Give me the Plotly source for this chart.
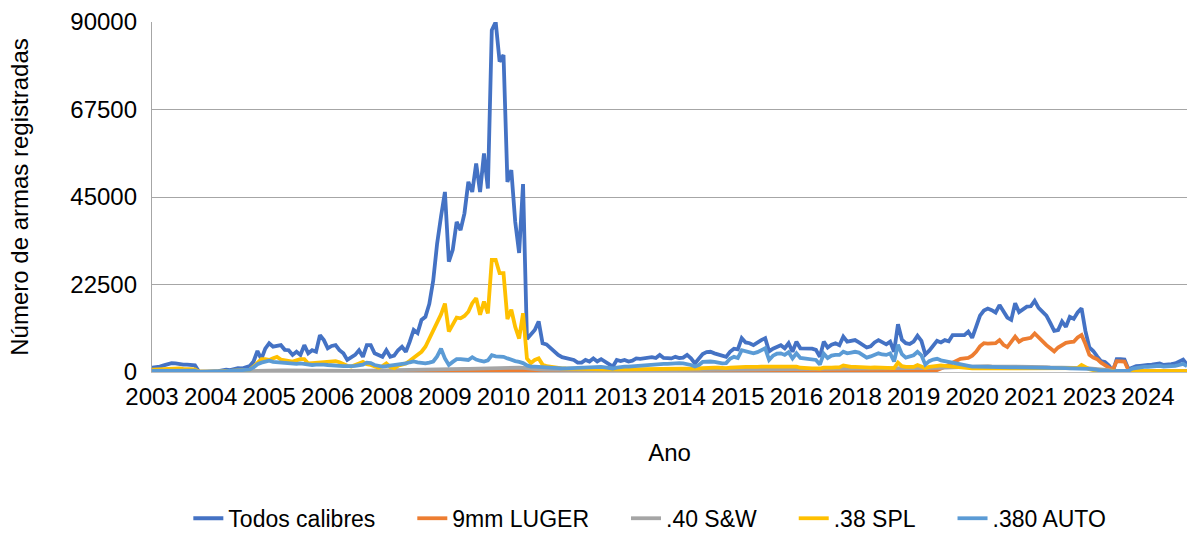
import plotly.graph_objects as go

# Monthly categories Jan/2003 .. Feb/2025
MONTHS = [f"{y}-{m:02d}" for y in range(2003, 2026) for m in range(1, 13)][:266]
TICK_YEARS = ["2003", "2004", "2005", "2006", "2008", "2009", "2010", "2011", "2013",
              "2014", "2015", "2016", "2018", "2019", "2020", "2021", "2023", "2024"]

todos_calibres = [
    1100, 1200, 1400, 1700, 2000, 2300, 2200, 2000, 1900, 1900,
    1800, 1700, 100, 0, 0, 100, 100, 200, 400, 600,
    500, 800, 1000, 900, 1300, 1500, 2700, 5400, 3300, 6000,
    7400, 6500, 6700, 6900, 5700, 5600, 4400, 5200, 4400, 6900,
    4800, 5600, 5200, 9500, 8200, 6100, 6700, 6900, 5600, 4800,
    3100, 3900, 4400, 5600, 3900, 6900, 6900, 4800, 4400, 3900,
    5600, 3900, 4200, 5600, 6500, 5200, 7800, 10800, 10000, 13400,
    14200, 17500, 23500, 33000, 40000, 46300, 28400, 31400, 38600, 36500,
    40800, 48900, 46300, 53600, 46300, 56200, 47200, 87900, 90000, 79800,
    81500, 48900, 51900, 38600, 30600, 48300, 8500, 9500, 10800, 13000,
    7400, 7100, 6100, 5400, 4400, 3800, 3600, 3500, 3100, 2400,
    2400, 3100, 2700, 3500, 2700, 3300, 2600, 2000, 1400, 3100,
    2800, 3100, 2700, 2900, 3500, 3400, 3500, 3500, 3800, 3600,
    4400, 3600, 3500, 3500, 3900, 3600, 3700, 4400, 3500, 2200,
    3400, 4600, 5100, 5200, 4800, 4500, 4100, 3900, 5200, 6000,
    5800, 8700, 7600, 7400, 6900, 7600, 8200, 8700, 5300, 6000,
    6400, 6900, 6100, 7400, 5200, 7800, 6100, 6100, 6100, 6000,
    5700, 3900, 7800, 6300, 7000, 7400, 6900, 9100, 7800, 8000,
    8200, 7600, 6900, 6300, 6600, 7600, 8200, 7500, 7100, 7800,
    5200, 12300, 8300, 7400, 7200, 7800, 9300, 8000, 4500, 5500,
    6700, 8000, 7600, 8200, 7900, 9500, 9500, 9500, 9500, 10400,
    8800, 11600, 14500, 15800, 16300, 15900, 15300, 17200, 15400, 14000,
    13400, 17700, 15400, 16200, 16800, 16900, 18300, 16500, 15600, 14500,
    12600, 10600, 10800, 13000, 11600, 14200, 13700, 15300, 16400, 10500,
    6300, 5400, 4000, 2800, 2600, 1700, 100, 3300, 3300, 3200,
    700, 1200, 1500, 1600, 1800, 1800, 1900, 2000, 2200, 1800,
    1800, 2000, 2200, 2600, 3200, 1900,
]

luger_9mm = [
    150, 160, 170, 180, 190, 200, 200, 190, 180, 170,
    160, 150, 30, 20, 20, 30, 30, 40, 50, 60,
    70, 80, 90, 100, 110, 120, 150, 180, 200, 210,
    220, 230, 230, 230, 220, 220, 210, 210, 200, 200,
    200, 200, 190, 190, 190, 180, 180, 180, 170, 170,
    170, 170, 180, 180, 180, 190, 190, 190, 200, 200,
    210, 220, 230, 240, 250, 260, 270, 280, 290, 300,
    310, 320, 330, 340, 350, 360, 340, 350, 360, 370,
    380, 390, 400, 410, 420, 430, 440, 460, 480, 470,
    460, 440, 420, 400, 380, 360, 300, 280, 270, 260,
    250, 250, 240, 240, 240, 230, 230, 230, 220, 220,
    220, 225, 230, 225, 220, 215, 220, 225, 230, 235,
    240, 240, 245, 245, 250, 250, 250, 255, 255, 260,
    260, 260, 265, 265, 270, 270, 270, 275, 275, 280,
    280, 285, 290, 290, 295, 300, 300, 300, 305, 310,
    310, 315, 320, 320, 325, 330, 330, 335, 335, 340,
    340, 340, 345, 345, 350, 350, 350, 350, 345, 345,
    340, 340, 340, 335, 335, 330, 330, 330, 325, 325,
    320, 320, 320, 315, 315, 310, 310, 310, 305, 305,
    300, 300, 300, 300, 300, 300, 310, 320, 330, 350,
    400, 500, 900, 1300, 1800, 2400, 2900, 3400, 3500, 3600,
    4200, 5200, 6600, 7400, 7300, 7400, 7400, 8200, 7000, 6400,
    7600, 9100, 7800, 8400, 8600, 8800, 9900, 8800, 7800, 6900,
    6100, 5300, 6300, 6800, 7500, 7700, 7800, 8900, 9500, 7200,
    4400, 3700, 3300, 2400, 1800, 1000, 500, 2800, 2800, 2700,
    500, 350, 320, 310, 300, 300, 300, 290, 290, 290,
    290, 280, 280, 280, 280, 280,
]

sw_40 = [
    100, 100, 100, 120, 120, 130, 130, 120, 110, 110,
    100, 100, 20, 20, 20, 30, 30, 40, 40, 50,
    60, 70, 80, 90, 100, 110, 200, 300, 350, 400,
    400, 400, 400, 400, 380, 360, 350, 350, 360, 370,
    350, 340, 330, 330, 320, 310, 300, 300, 290, 280,
    270, 270, 280, 290, 300, 310, 320, 330, 340, 350,
    360, 380, 400, 420, 440, 460, 480, 500, 520, 550,
    580, 600, 630, 660, 700, 720, 700, 720, 750, 780,
    800, 820, 850, 880, 900, 920, 950, 1000, 1050, 1100,
    1150, 1200, 1200, 1150, 1100, 1050, 900, 800, 700, 650,
    620, 600, 580, 560, 540, 520, 500, 490, 480, 470,
    460, 450, 440, 430, 420, 410, 400, 400, 400, 400,
    400, 400, 400, 400, 410, 410, 410, 420, 420, 420,
    420, 430, 430, 430, 440, 440, 440, 450, 450, 450,
    450, 460, 460, 470, 470, 480, 480, 490, 490, 500,
    500, 510, 510, 520, 520, 530, 530, 540, 540, 550,
    550, 550, 560, 560, 570, 570, 580, 580, 590, 590,
    600, 600, 610, 610, 620, 620, 630, 630, 640, 640,
    650, 650, 660, 660, 670, 680, 690, 700, 710, 720,
    730, 740, 750, 760, 780, 800, 820, 850, 880, 900,
    950, 1000, 1050, 1100, 1150, 1200, 1250, 1300, 1350, 1400,
    1450, 1500, 1500, 1500, 1500, 1450, 1450, 1450, 1400, 1400,
    1400, 1400, 1350, 1350, 1350, 1300, 1300, 1300, 1250, 1250,
    1200, 1200, 1200, 1150, 1150, 1100, 1100, 1100, 1050, 1000,
    950, 900, 800, 700, 600, 500, 300, 250, 250, 200,
    200, 200, 200, 200, 200, 200, 200, 200, 200, 200,
    200, 200, 200, 200, 200, 200,
]

spl_38 = [
    600, 650, 700, 750, 800, 900, 950, 900, 800, 750,
    700, 700, 100, 50, 0, 50, 100, 100, 150, 200,
    250, 300, 400, 450, 500, 600, 1400, 2500, 3300, 3300,
    3100, 3500, 3900, 3200, 3000, 2800, 2700, 3000, 3300, 3300,
    2200, 2300, 2400, 2500, 2600, 2700, 2900, 2800, 2500, 2000,
    1600, 1400, 1700, 2200, 2600, 2000, 1800, 1400, 1100, 1500,
    2200, 1300, 1000, 1600, 1900, 2200, 2900, 3600, 4400, 5200,
    6500, 8500, 10800, 13000, 14800, 17600, 10400, 12200, 14000, 13800,
    14400, 15500, 17700, 19000, 14700, 18100, 15100, 28800, 28800, 25400,
    25400, 13600, 16000, 11600, 8600, 15100, 3500, 2300, 3100, 3500,
    1900, 1500, 1300, 1100, 1000, 950, 900, 850, 800, 800,
    750, 750, 700, 700, 700, 650, 650, 650, 600, 650,
    650, 700, 700, 700, 750, 750, 750, 800, 800, 800,
    800, 850, 850, 800, 800, 850, 850, 900, 850, 800,
    900, 1000, 1100, 1100, 1100, 1100, 1000, 1000, 1100, 1200,
    1200, 1300, 1300, 1300, 1200, 1300, 1400, 1400, 1200, 1200,
    1200, 1300, 1300, 1400, 1200, 1400, 1100, 1000, 1000, 950,
    950, 900, 1100, 1000, 1100, 1200, 1200, 1700, 1400, 1300,
    1300, 1200, 1100, 1000, 1100, 1200, 1200, 1100, 1100, 1200,
    1000, 2400, 1500, 1300, 1200, 1300, 1800, 1500, 1000, 1300,
    1500, 1600, 1700, 1600, 1500, 1300, 1200, 1100, 1000, 1000,
    950, 950, 950, 1000, 1000, 950, 950, 1000, 950, 900,
    900, 950, 950, 900, 900, 950, 950, 900, 900, 900,
    850, 850, 900, 900, 950, 950, 1000, 1000, 1800, 1200,
    700, 500, 400, 400, 350, 300, 200, 300, 300, 300,
    250, 260, 250, 240, 250, 260, 250, 240, 250, 260,
    250, 240, 250, 260, 250, 240,
]

auto_380 = [
    300, 300, 350, 400, 450, 500, 500, 450, 400, 400,
    400, 350, 50, 50, 50, 100, 100, 150, 200, 250,
    300, 350, 400, 450, 500, 600, 1200, 2000, 2400, 2700,
    2900, 2600, 2500, 2400, 2300, 2200, 2000, 2100, 2200, 2000,
    1900, 1800, 1900, 2000, 1900, 1800, 1800, 1700, 1600, 1500,
    1400, 1500, 1600, 1800, 1900, 2400, 2300, 1800, 1500, 1400,
    1500, 1600, 1700, 1800, 1900, 2200, 2500, 2700, 2500, 2300,
    2200, 2400, 2700, 4000, 6000, 3500, 1800, 2600, 3300, 3300,
    3300, 3100, 3800, 3200, 2900, 2700, 3000, 4300, 4000, 3900,
    3900, 3500, 3100, 2800, 2600, 2300, 1700, 1400, 1400, 1400,
    1300, 1200, 1100, 1000, 1000, 950, 950, 1000, 1000, 1100,
    1000, 1100, 1200, 1300, 1400, 1300, 1200, 1000, 900, 1100,
    1300, 1400, 1400, 1500, 1600, 1700, 1800, 1800, 1900, 2000,
    2200, 2100, 2100, 2200, 2200, 2300, 2200, 2100, 1800, 1400,
    1800, 2600, 2700, 2700, 2600, 2400, 2200, 2300, 3400, 3900,
    3600, 5600, 5300, 5000, 4800, 5100, 5500, 6100, 3100, 4200,
    4700, 4800, 4400, 5100, 3500, 4800, 3600, 3500, 3400, 3100,
    3100, 1900, 4700, 3600, 4200, 4400, 4400, 5200, 4800, 5000,
    5200, 5000, 4400, 3700, 4000, 4500, 4800, 4500, 4400, 4800,
    2700, 7000, 4600, 3700, 3900, 4300, 5200, 4300, 1900, 2800,
    3200, 3400, 3000, 2800, 2600, 2200, 2000, 1800, 1600, 1500,
    1400, 1400, 1350, 1300, 1300, 1300, 1250, 1250, 1250, 1200,
    1200, 1200, 1200, 1150, 1150, 1150, 1100, 1100, 1100, 1100,
    1050, 1050, 1000, 1000, 1000, 950, 950, 900, 900, 900,
    800, 700, 500, 400, 400, 300, 100, 300, 300, 300,
    300, 900, 1100, 1200, 1300, 1300, 1400, 1500, 1600, 1400,
    1400, 1500, 1600, 1800, 2100, 1500,
]

SERIES = [
    ("Todos calibres", todos_calibres, "#4472C4"),
    ("9mm LUGER", luger_9mm, "#ED7D31"),
    (".40 S&W", sw_40, "#A5A5A5"),
    (".38 SPL", spl_38, "#FFC000"),
    (".380 AUTO", auto_380, "#5B9BD5"),
]

FONT = "Liberation Sans, Arial, Helvetica, sans-serif"
PAD = "\u00a0" * 5  # extra gap between legend entries

fig = go.Figure()
for k, (name, vals, color) in enumerate(SERIES):
    label = name + (PAD if k < len(SERIES) - 1 else "")
    fig.add_trace(go.Scatter(
        x=MONTHS[:len(vals)], y=vals, name=label, mode="lines",
        line=dict(color=color, width=3.8),
    ))

fig.update_layout(
    width=1190, height=533,
    margin=dict(l=152, r=3, t=22, b=161, autoexpand=False),
    paper_bgcolor="white", plot_bgcolor="white",
    font=dict(family=FONT, size=24, color="#000000"),
    showlegend=True,
    legend=dict(orientation="h", x=0.481, xanchor="center", y=-0.418, yanchor="middle",
                font=dict(size=23), itemwidth=30, traceorder="normal"),
)
fig.update_xaxes(
    type="category", categoryorder="array", categoryarray=MONTHS,
    range=[0, len(MONTHS) - 1], automargin=False,
    tickmode="array", tickvals=MONTHS[::15], ticktext=TICK_YEARS,
    tickangle=0, showgrid=False, zeroline=False,
    showline=True, linecolor="#BFBFBF", linewidth=1,
    ticks="", ticklabelstandoff=3,
    title=dict(text="Ano", standoff=35, font=dict(size=24)),
)
fig.update_yaxes(
    range=[0, 90000], tickmode="array", tickvals=[0, 22500, 45000, 67500, 90000],
    ticktext=["0", "22500", "45000", "67500", "90000"], automargin=False,
    showgrid=True, gridcolor="#A6A6A6", gridwidth=1.3, zeroline=False,
    showline=True, linecolor="#A6A6A6", linewidth=1.3,
    ticks="", ticklabelstandoff=9,
    title=dict(text="Número de armas registradas", standoff=34, font=dict(size=24)),
)

fig.write_html("out.html", post_script="document.body.style.margin='0';",
               config={"displayModeBar": False})
